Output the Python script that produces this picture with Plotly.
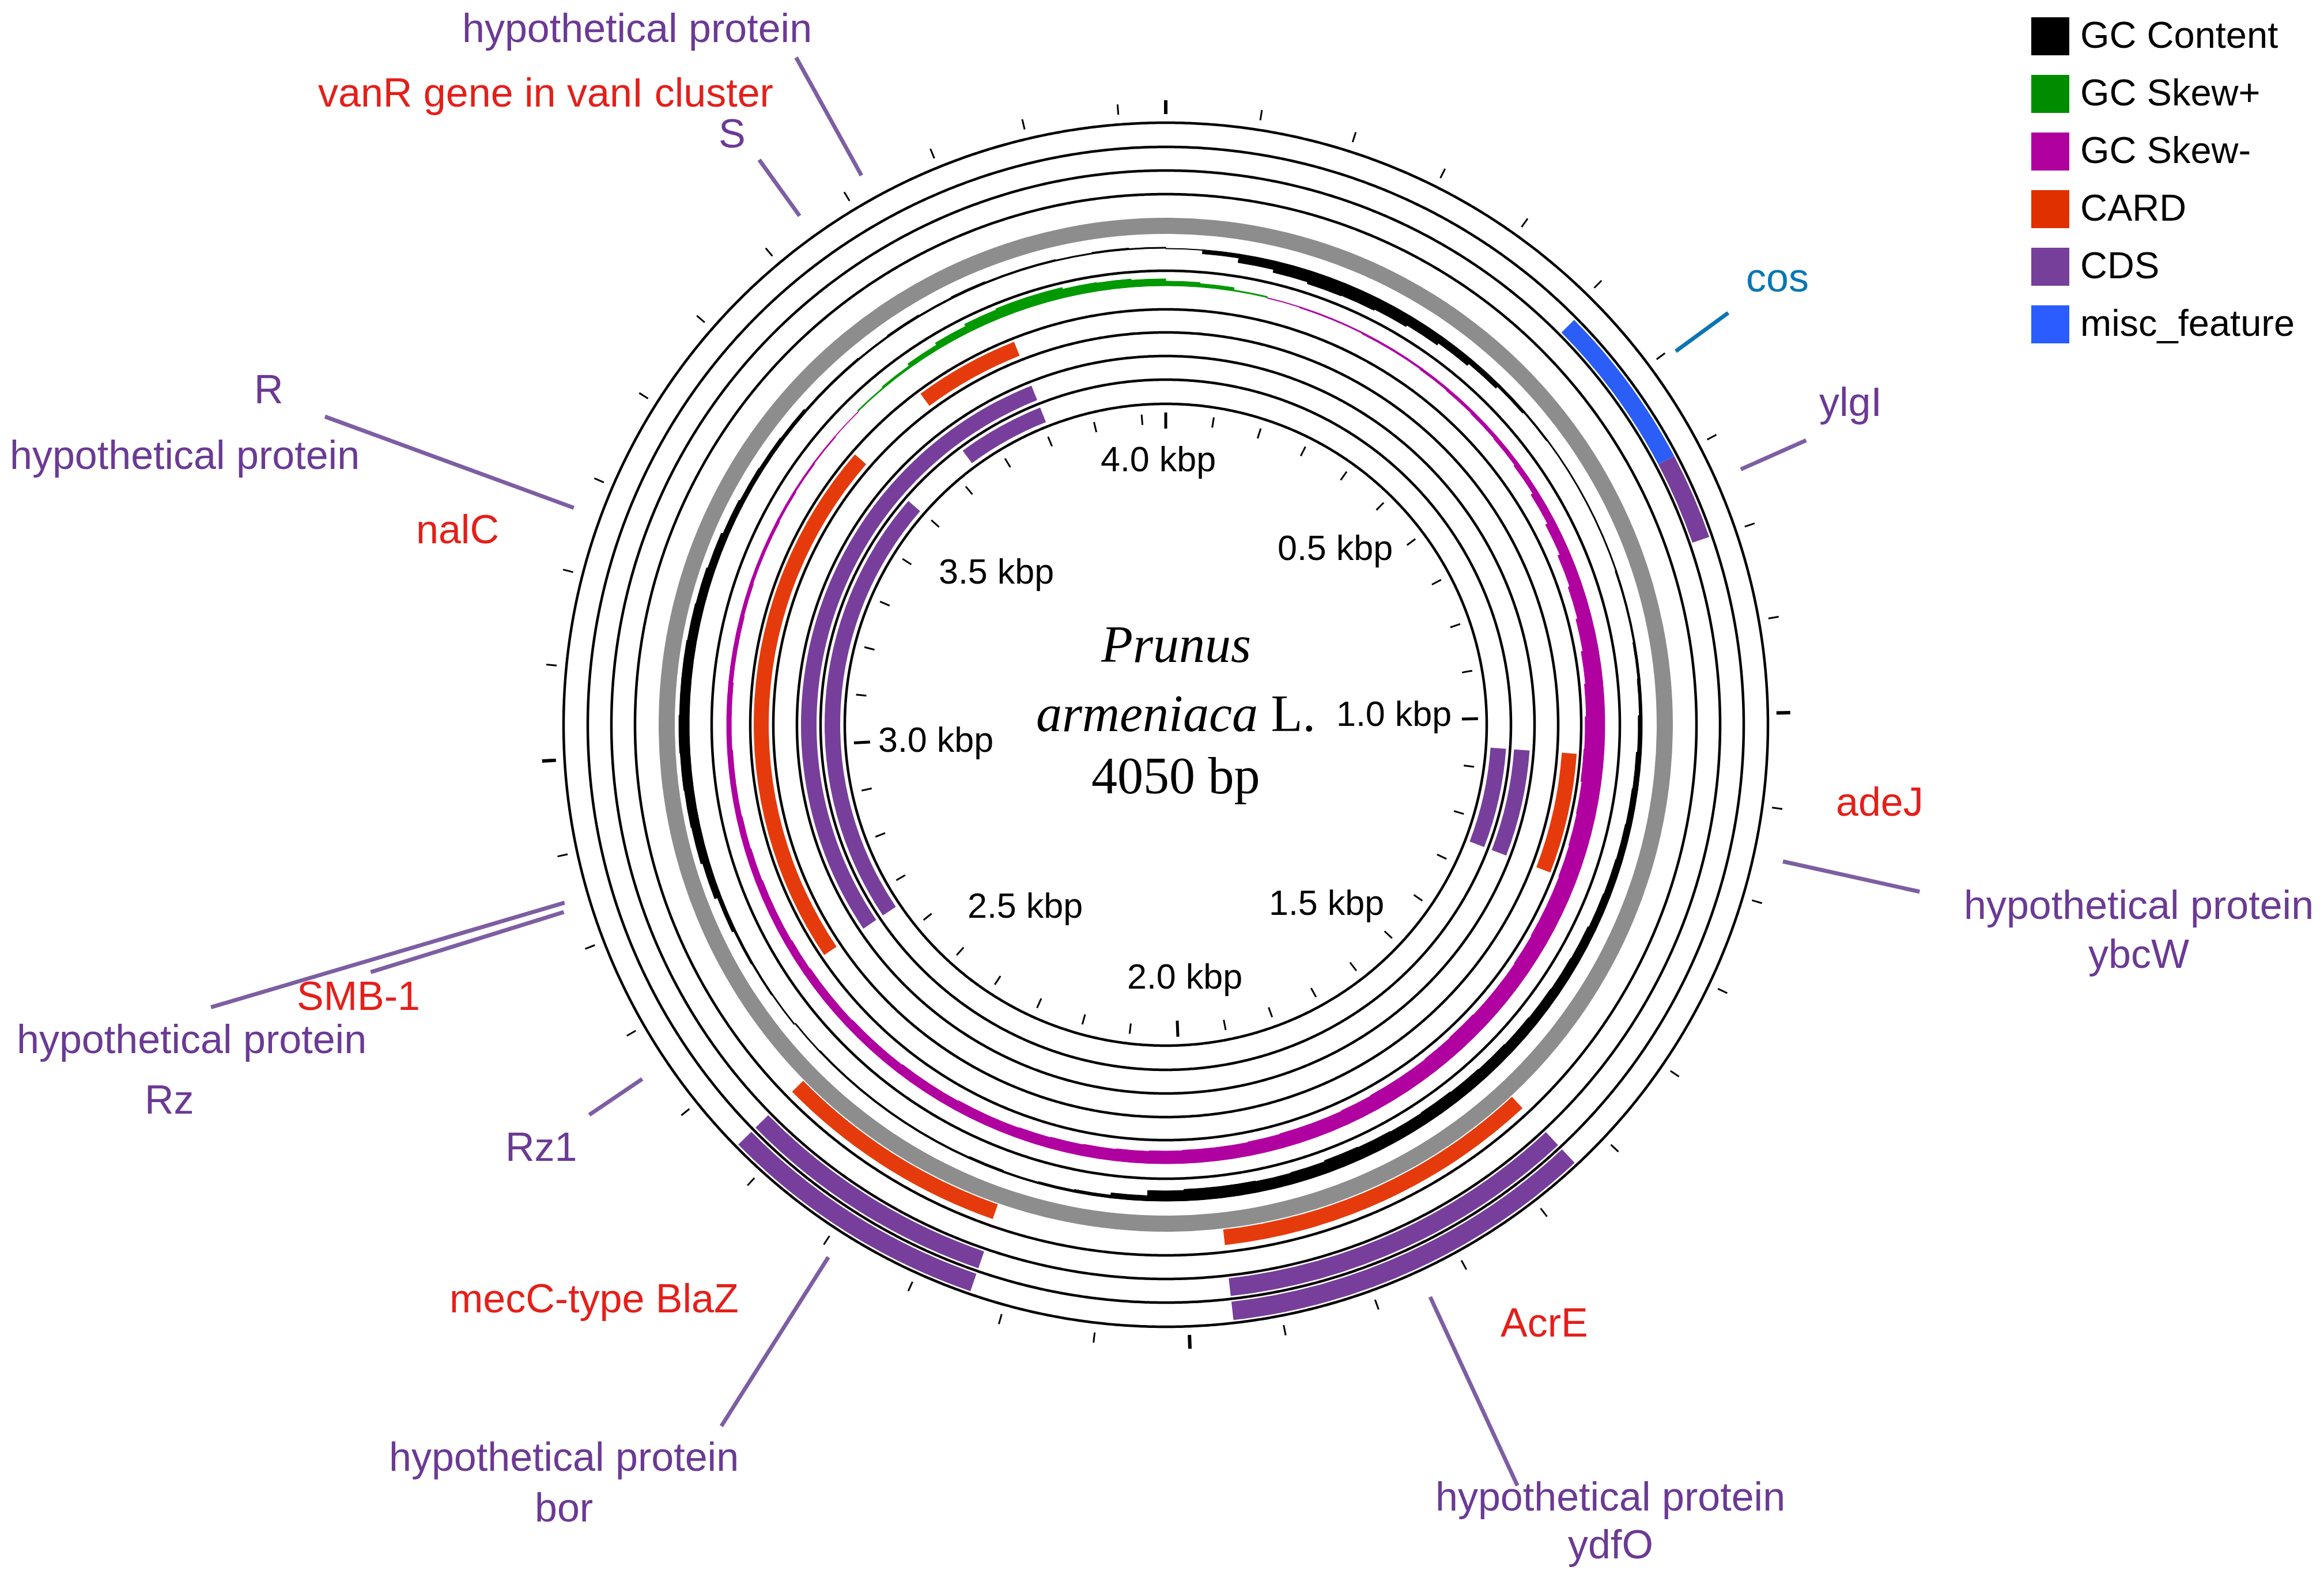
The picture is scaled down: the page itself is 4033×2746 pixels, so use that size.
import numpy as np
import plotly.graph_objects as go

# ---------------- data ----------------
GENOME_LENGTH = 4050
WINDOW = 50

# outer CDS rings
cds_a_start = [1541, 2239]
cds_a_end = [1952, 2537]
cds_b_start = [699, 1541, 2239]
cds_b_end = [798, 1952, 2537]
misc_start = [509]
misc_end = [699]
# CARD hits just outside the backbone
card_outer_start = [1542, 2242]
card_outer_end = [1952, 2537]
# inner CARD ring
card_inner_start = [1058, 2655, 3639]
card_inner_end = [1249, 3499, 3807]
# inner CDS rings
cds_g_start = [1058, 2655]
cds_g_end = [1249, 3807]
cds_h_start = [1058, 2655, 3639]
cds_h_end = [1249, 3499, 3807]

# GC content deviation per 50 bp window (outward = above average)
gc_content = [-1, -7, -15, -20, -23, -22, -20, -17, -13, -9,
              -5, -3, -2, -2, -2, -2, -3, -3, -4, -5,
              -7, -9, -10, -11, -12, -13, -15, -16, -17, -18,
              -19, -20, -21, -20, -21, -22, -20, -19, -20, -20,
              -18, -9, -5, -4, -3, -4, -3, -3, -3, -3,
              -3, -2, 2, 3, 4, 7, 12, 15, 16, 17,
              18, 17, 17, 16, 15, 13, 10, 8, 7, 6,
              4, 4, 3, 4, 3, 4, 3, 3, 2, 3, 2]
# GC skew per 50 bp window (positive = Skew+, negative = Skew-)
gc_skew = [8, 6, 2, -1, -2, -2, -3, -3, -4, -5,
           -6, -7, -9, -13, -17, -21, -24, -27, -30, -32,
           -34, -35, -33, -32, -31, -30, -30, -29, -28, -28,
           -29, -28, -27, -27, -26, -25, -25, -24, -23, -23,
           -22, -21, -20, -19, -18, -17, -17, -16, -16, -15,
           -15, -14, -14, -13, -12, -12, -11, -10, -9, -9,
           -8, -8, -7, -7, -6, -5, -5, -4, -3, -2,
           -1, 2, 4, 8, 12, 16, 18, 18, 15, 14, 12]

tick_bp = list(range(0, GENOME_LENGTH, 100))
major_tick_bp = [0, 1000, 2000, 3000]
scale_label_bp = [500, 1000, 1500, 2000, 2500, 3000, 3500, 4000]
scale_labels = ["0.5 kbp", "1.0 kbp", "1.5 kbp", "2.0 kbp", "2.5 kbp", "3.0 kbp", "3.5 kbp", "4.0 kbp"]

legend_names = ["GC Content", "GC Skew+", "GC Skew-", "CARD", "CDS", "misc_feature"]

feature_labels = ["hypothetical protein", "vanR gene in vanI cluster", "S", "R",
                  "hypothetical protein", "nalC", "SMB-1", "hypothetical protein", "Rz",
                  "Rz1", "mecC-type BlaZ", "hypothetical protein", "bor", "AcrE",
                  "hypothetical protein", "ydfO", "adeJ", "hypothetical protein", "ybcW",
                  "ylgI", "cos"]
feature_label_kinds = ["CDS", "CARD", "CDS", "CDS", "CDS", "CARD", "CARD", "CDS", "CDS",
                       "CDS", "CARD", "CDS", "CDS", "CARD", "CDS", "CDS", "CARD", "CDS", "CDS",
                       "CDS", "misc"]
leader_bp = [3724, 3648, 3264, 2852, 2843, 2654, 2389, 1746, 1153, 743, 605]
leader_kinds = ["CDS", "CDS", "CDS", "CDS", "CDS", "CDS", "CDS", "CDS", "CDS", "CDS", "misc"]

# ---------------- styling / layout ----------------
W, H = 4033, 2746
CX, CY = 2015, 1250
RMAX = 1250

C_CDS = "#773f9b"
C_CARD = "#e53b0c"
C_MISC = "#2b5df7"
C_GREEN = "#009900"
C_MAG = "#b000a0"
C_GRAY = "#8d8d8d"
TXT = {"CDS": "#6b3a94", "CARD": "#e41f1a", "misc": "#0a76b4"}
LINE = {"CDS": "#7d5ea2", "misc": "#0a76b4"}
legend_colors = ["#000000", "#008c00", "#b0009e", "#e03000", "#763f99", "#2b5cff"]

SANS = "Liberation Sans, Arial, sans-serif"
SERIF = "Liberation Serif, Times New Roman, serif"


def theta(bp):
    return np.asarray(bp, dtype=float) * 360.0 / GENOME_LENGTH


def arcs(starts, ends, r_in, r_out, color):
    s = np.asarray(starts, float)
    e = np.asarray(ends, float)
    return go.Barpolar(r=np.full(len(s), r_out - r_in), base=np.full(len(s), r_in),
                       theta=theta((s + e) / 2), width=theta(e - s),
                       marker=dict(color=color, line=dict(width=0)),
                       hoverinfo="skip", showlegend=False)


fig = go.Figure()

# ring outlines
ring_radii = [557, 599, 640, 681, 721, 788, 921, 962, 1003, 1045]
th = np.linspace(0, 360, 1441)
rr, tt = [], []
for rad in ring_radii:
    rr += [rad] * len(th) + [None]
    tt += list(th) + [None]
fig.add_trace(go.Scatterpolar(r=rr, theta=tt, mode="lines",
                              line=dict(color="black", width=4.5),
                              hoverinfo="skip", showlegend=False))

# backbone
fig.add_trace(go.Barpolar(r=[28], base=[852], theta=[180], width=[360],
                          marker=dict(color=C_GRAY, line=dict(width=0)),
                          hoverinfo="skip", showlegend=False))

# GC content
centers = np.arange(len(gc_content)) * WINDOW + WINDOW / 2
gc = np.asarray(gc_content, float)
fig.add_trace(go.Barpolar(r=np.abs(gc), base=827 + np.minimum(gc, 0), theta=theta(centers),
                          width=theta(WINDOW) * np.ones(len(gc)),
                          marker=dict(color="black", line=dict(color="black", width=1)),
                          hoverinfo="skip", showlegend=False))

# GC skew
sk = np.asarray(gc_skew, float)
pos = sk > 0
neg = sk < 0
fig.add_trace(go.Barpolar(r=sk[pos], base=np.full(pos.sum(), 762.0), theta=theta(centers[pos]),
                          width=theta(WINDOW) * np.ones(pos.sum()),
                          marker=dict(color=C_GREEN, line=dict(color=C_GREEN, width=1)),
                          hoverinfo="skip", showlegend=False))
fig.add_trace(go.Barpolar(r=-sk[neg], base=762.0 + sk[neg], theta=theta(centers[neg]),
                          width=theta(WINDOW) * np.ones(neg.sum()),
                          marker=dict(color=C_MAG, line=dict(color=C_MAG, width=1)),
                          hoverinfo="skip", showlegend=False))

# features
fig.add_trace(arcs(cds_a_start, cds_a_end, 1008, 1040, C_CDS))
fig.add_trace(arcs(cds_b_start, cds_b_end, 967, 998, C_CDS))
fig.add_trace(arcs(misc_start, misc_end, 967, 998, C_MISC))
fig.add_trace(arcs(card_outer_start, card_outer_end, 882, 909, C_CARD))
fig.add_trace(arcs(card_inner_start, card_inner_end, 689, 715, C_CARD))
fig.add_trace(arcs(cds_g_start, cds_g_end, 606, 633, C_CDS))
fig.add_trace(arcs(cds_h_start, cds_h_end, 565, 592, C_CDS))


def ticks(bps, r1, r2, width):
    r, t = [], []
    for b in bps:
        a = float(theta(b))
        r += [r1, r2, None]
        t += [a, a, None]
    return go.Scatterpolar(r=r, theta=t, mode="lines", line=dict(color="black", width=width),
                           hoverinfo="skip", showlegend=False)


minor = [b for b in tick_bp if b not in major_tick_bp]
fig.add_trace(ticks(minor, 1062, 1080, 3))
fig.add_trace(ticks(major_tick_bp, 1060, 1084, 6))
fig.add_trace(ticks(minor, 522, 540, 3))
fig.add_trace(ticks(major_tick_bp, 514, 542, 5))

# ---------------- overlay (labels, leader lines, legend) ----------------
def xy(bp, r):
    a = np.deg2rad(float(theta(bp)))
    return CX + r * np.sin(a), CY - r * np.cos(a)


leader_r = [(1090, 1324), (1088, 1208), (1094, 1554), (1088, 1728), (1094, 1445),
            (1097, 1208), (1094, 1441), (1094, 1455), (1097, 1340), (1092, 1216), (1097, 1210)]
for kind in ["CDS", "misc"]:
    lx, ly = [], []
    for b, k, (r1, r2) in zip(leader_bp, leader_kinds, leader_r):
        if k != kind:
            continue
        x1, y1 = xy(b, r1)
        x2, y2 = xy(b, r2)
        lx += [x1, x2, None]
        ly += [y1, y2, None]
    fig.add_trace(go.Scatter(x=lx, y=ly, mode="lines", line=dict(color=LINE[kind], width=7),
                             hoverinfo="skip", showlegend=False))

# legend squares
fig.add_trace(go.Scatter(x=[3550] * len(legend_names), y=[55 + 100 * i for i in range(len(legend_names))],
                         mode="markers", marker=dict(symbol="square", size=66, color=legend_colors,
                                                     line=dict(width=0)),
                         hoverinfo="skip", showlegend=False))

annotations = []
for i, name in enumerate(legend_names):
    annotations.append(dict(x=3600, y=52 + 100 * i, xref="x", yref="y", text=name, showarrow=False,
                            xanchor="left", yanchor="middle",
                            font=dict(family=SANS, size=65, color="black")))

label_pos = [(1103, 51), (945, 163), (1268, 234), (464, 678), (318, 792), (792, 921),
             (620, 1731), (330, 1806), (292, 1911), (937, 1993), (1029, 2256), (976, 2531),
             (976, 2619), (2678, 2298), (2792, 2600), (2793, 2683), (3260, 1394), (3709, 1573),
             (3709, 1658), (3209, 700), (3082, 484)]
for txt, kind, (x, y) in zip(feature_labels, feature_label_kinds, label_pos):
    annotations.append(dict(x=x - 6, y=y - 10, xref="x", yref="y", text=txt, showarrow=False,
                            xanchor="center", yanchor="middle",
                            font=dict(family=SANS, size=70, color=TXT[kind])))

# inner scale labels (placed just inside the tick ring)
scale_pos = [(2309, 949), (2411, 1237), (2294, 1565), (2048, 1693),
             (1771, 1570), (1616, 1282), (1721, 990), (2002, 795)]
for txt, (x, y) in zip(scale_labels, scale_pos):
    annotations.append(dict(x=x, y=y - 6, xref="x", yref="y",
                            text=txt, showarrow=False, xanchor="center", yanchor="middle",
                            font=dict(family=SANS, size=61, color="black")))

# centre title
for txt, y in [("<i>Prunus</i>", 1110), ("<i>armeniaca</i> L.", 1230), ("4050 bp", 1338)]:
    annotations.append(dict(x=2032, y=y, xref="x", yref="y", text=txt, showarrow=False,
                            xanchor="center", yanchor="middle",
                            font=dict(family=SERIF, size=90, color="black")))

fig.update_layout(
    width=W, height=H,
    margin=dict(l=0, r=0, t=0, b=0),
    paper_bgcolor="white", plot_bgcolor="white",
    showlegend=False, hovermode=False,
    xaxis=dict(range=[0, W], visible=False, fixedrange=True, domain=[0, 1]),
    yaxis=dict(range=[H, 0], visible=False, fixedrange=True, domain=[0, 1]),
    polar=dict(
        domain=dict(x=[(CX - RMAX) / W, (CX + RMAX) / W],
                    y=[(H - CY - RMAX) / H, (H - CY + RMAX) / H]),
        bgcolor="rgba(0,0,0,0)", bargap=0, hole=0,
        radialaxis=dict(range=[0, RMAX], visible=False, showgrid=False),
        angularaxis=dict(rotation=90, direction="clockwise", visible=False, showgrid=False),
    ),
    annotations=annotations,
)

fig.write_html("out.html")
